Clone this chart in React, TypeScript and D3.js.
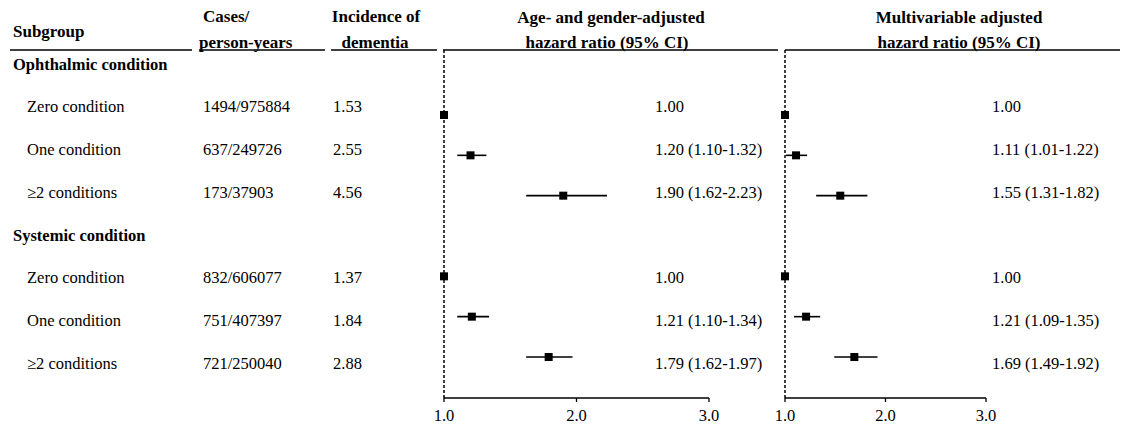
import React from "react";
import * as d3 from "d3";

const sections = ["Ophthalmic condition", "Systemic condition"];
const levels = ["Zero condition", "One condition", "\u22652 conditions"];
const cases = ["1494/975884", "637/249726", "173/37903", "832/606077", "751/407397", "721/250040"];
const incidence = ["1.53", "2.55", "4.56", "1.37", "1.84", "2.88"];
const hrAge = [1.0, 1.2, 1.9, 1.0, 1.21, 1.79];
const loAge: (number | null)[] = [null, 1.1, 1.62, null, 1.1, 1.62];
const hiAge: (number | null)[] = [null, 1.32, 2.23, null, 1.34, 1.97];
const hrMulti = [1.0, 1.11, 1.55, 1.0, 1.21, 1.69];
const loMulti: (number | null)[] = [null, 1.01, 1.31, null, 1.09, 1.49];
const hiMulti: (number | null)[] = [null, 1.22, 1.82, null, 1.35, 1.92];
const axisTicks = [1, 2, 3];

const FONT = '"Liberation Serif", "Times New Roman", serif';
const FS = 16.5;
const HFS = 17;

function fmt(v: number) {
  return v.toFixed(2);
}
function estText(hr: number, lo: number | null, hi: number | null) {
  if (lo === null || hi === null) return fmt(hr);
  return `${fmt(hr)} (${fmt(lo)}-${fmt(hi)})`;
}

export default function App() {
  const W = 1124;
  const H = 432;
  const yText = d3.scaleLinear().domain([0, 7]).range([64, 363]);
  const yMark = d3.scaleLinear().domain([1, 7]).range([115, 357]);
  const x1 = d3.scaleLinear().domain([1, 3]).range([444, 709]);
  const x2 = d3.scaleLinear().domain([1, 3]).range([785, 986]);
  const axisY = 398;
  const topY = 50;

  const rows: { idx: number; row: number }[] = [];
  for (let s = 0; s < sections.length; s++) {
    for (let l = 0; l < levels.length; l++) {
      rows.push({ idx: s * levels.length + l, row: s * 4 + l + 1 });
    }
  }

  const panels = [
    { x: x1, hr: hrAge, lo: loAge, hi: hiAge, textX: 655 },
    { x: x2, hr: hrMulti, lo: loMulti, hi: hiMulti, textX: 992 },
  ];

  const ms = 8;

  return (
    <svg
      width={W}
      height={H}
      style={{ position: "absolute", left: 0, top: 0, background: "#fff", fontFamily: FONT, fontSize: FS }}
    >
      <rect x={0} y={0} width={W} height={H} fill="#fff" />
      <g fontWeight="bold" fill="#000" style={{ fontSize: HFS }}>
        <text x={13} y={31} dy="0.35em">Subgroup</text>
        <text x={203} y={16} dy="0.35em">Cases/</text>
        <text x={199} y={42} dy="0.35em">person-years</text>
        <text x={376} y={16} dy="0.35em" textAnchor="middle">Incidence of</text>
        <text x={375} y={42} dy="0.35em" textAnchor="middle">dementia</text>
        <text x={611} y={17} dy="0.35em" textAnchor="middle">Age- and gender-adjusted</text>
        <text x={607} y={42} dy="0.35em" textAnchor="middle">hazard ratio (95% CI)</text>
        <text x={959} y={17} dy="0.35em" textAnchor="middle">Multivariable adjusted</text>
        <text x={959} y={42} dy="0.35em" textAnchor="middle">hazard ratio (95% CI)</text>
      </g>
      <g stroke="#000" strokeWidth={1.5}>
        <line x1={10} x2={192} y1={topY} y2={topY} />
        <line x1={199} x2={325} y1={topY} y2={topY} />
        <line x1={331} x2={437} y1={topY} y2={topY} />
        <line x1={443} x2={778} y1={topY} y2={topY} />
        <line x1={785} x2={1120} y1={topY} y2={topY} />
      </g>
      {sections.map((s, i) => (
        <text key={s} x={13} y={yText(i * 4)} dy="0.35em" fontWeight="bold">
          {s}
        </text>
      ))}
      {rows.map(({ idx, row }) => (
        <g key={idx}>
          <text x={27} y={yText(row)} dy="0.35em">{levels[idx % 3]}</text>
          <text x={203} y={yText(row)} dy="0.35em">{cases[idx]}</text>
          <text x={333} y={yText(row)} dy="0.35em">{incidence[idx]}</text>
        </g>
      ))}
      {panels.map((p, pi) => (
        <g key={pi}>
          <line
            x1={p.x(1)}
            x2={p.x(1)}
            y1={topY}
            y2={axisY}
            stroke="#000"
            strokeWidth={1.5}
            strokeDasharray="3,2"
          />
          <line x1={p.x(1)} x2={p.x(3)} y1={axisY} y2={axisY} stroke="#000" strokeWidth={1.3} />
          {axisTicks.map((t) => (
            <g key={t}>
              <line x1={p.x(t)} x2={p.x(t)} y1={axisY} y2={axisY + 4} stroke="#000" strokeWidth={1.3} />
              <text x={p.x(t)} y={415} dy="0.35em" textAnchor="middle">
                {t.toFixed(1)}
              </text>
            </g>
          ))}
          {rows.map(({ idx, row }) => {
            const lo = p.lo[idx];
            const hi = p.hi[idx];
            const y = yMark(row);
            return (
              <g key={idx}>
                {lo !== null && hi !== null && (
                  <line x1={p.x(lo)} x2={p.x(hi)} y1={y} y2={y} stroke="#000" strokeWidth={1.6} />
                )}
                <rect x={p.x(p.hr[idx]) - ms / 2} y={y - ms / 2} width={ms} height={ms} fill="#000" />
                <text x={p.textX} y={yText(row)} dy="0.35em">
                  {estText(p.hr[idx], lo, hi)}
                </text>
              </g>
            );
          })}
        </g>
      ))}
    </svg>
  );
}
